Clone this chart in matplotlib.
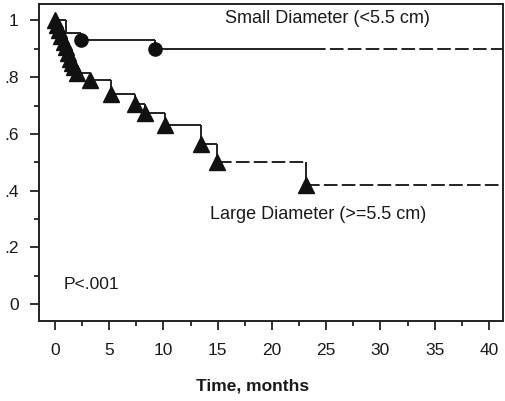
import matplotlib
matplotlib.use("Agg")
import matplotlib.pyplot as plt
from matplotlib.ticker import MultipleLocator

plt.rcParams['font.family'] = ['Liberation Sans', 'DejaVu Sans']

# Small diameter (<5.5 cm)
small_times = [0.0, 1.0, 2.4, 9.2]
small_surv = [1.0, 0.955, 0.93, 0.90]
small_marker_times = [2.4, 9.2]
small_marker_surv = [0.93, 0.90]
small_solid_end = 23.7

# Large diameter (>=5.5 cm)
large_times = [0.0, 0.2, 0.4, 0.6, 0.8, 1.0, 1.2, 1.4, 1.6, 1.8, 2.0,
               3.2, 5.2, 7.4, 8.3, 10.1, 13.5, 14.9, 23.1]
large_surv = [1.0, 0.985, 0.965, 0.945, 0.925, 0.905, 0.885, 0.865,
              0.85, 0.835, 0.815, 0.79, 0.74, 0.705, 0.675, 0.63,
              0.565, 0.50, 0.42]
large_solid_end = 15.0

end_time = 41.6
xticks = [0, 5, 10, 15, 20, 25, 30, 35, 40]
yticks = [0, 0.2, 0.4, 0.6, 0.8, 1.0]
ytick_labels = ['0', '.2', '.4', '.6', '.8', '1']

col = '#222222'
lw = 1.4
dash = (0, (7.0, 2.2))

fig = plt.figure(figsize=(5.05, 4.01), dpi=100)
ax = fig.add_axes([39/505, 1-321/401, (503-39)/505, (321-4)/401])


def draw_km(times, surv, solid_end):
    for i in range(len(times)):
        a = times[i]
        b = times[i+1] if i+1 < len(times) else end_time
        s = surv[i]
        if a < solid_end:
            ax.plot([a, min(b, solid_end)], [s, s], color=col, lw=lw,
                    solid_capstyle='butt')
        if b > solid_end:
            ax.plot([max(a, solid_end), b], [s, s], color=col, lw=lw,
                    linestyle=dash)
        if i+1 < len(times):
            ax.plot([b, b], [s, surv[i+1]], color=col, lw=lw,
                    solid_capstyle='butt')


draw_km(small_times, small_surv, small_solid_end)
draw_km(large_times, large_surv, large_solid_end)

ax.plot(large_times, large_surv, linestyle='none', marker='^',
        markersize=11, color='#111111')
ax.plot(small_marker_times, small_marker_surv, linestyle='none',
        marker='o', markersize=9.5, color='#111111')

ax.set_xlim(-1.47, 41.3)
ax.set_ylim(-0.06, 1.058)

ax.set_xticks(xticks)
ax.xaxis.set_minor_locator(MultipleLocator(2.5))
ax.set_yticks(yticks)
ax.set_yticklabels(ytick_labels)
ax.yaxis.set_minor_locator(MultipleLocator(0.1))

ax.tick_params(axis='both', which='major', direction='out', length=6.5,
               width=1.3, color=col, labelsize=12.5, labelcolor='#1a1a1a')
ax.tick_params(axis='both', which='minor', direction='out', length=3.5,
               width=1.3, color=col)
ax.tick_params(axis='x', which='major', pad=9)
ax.tick_params(axis='y', which='major', pad=8)

for sp in ax.spines.values():
    sp.set_linewidth(1.4)
    sp.set_color(col)

ax.text(0.40, 0.955, 'Small Diameter (<5.5 cm)', transform=ax.transAxes,
        fontsize=13, color='#1a1a1a', va='center', ha='left')
ax.text(0.369, 0.335, 'Large Diameter (>=5.5 cm)', transform=ax.transAxes,
        fontsize=13, color='#1a1a1a', va='center', ha='left')
ax.text(0.052, 0.115, 'P<.001', transform=ax.transAxes,
        fontsize=12.6, color='#1a1a1a', va='center', ha='left')

fig.text(253/505, 1-386/401, 'Time, months', fontsize=12.5, fontweight='bold',
         ha='center', va='center', color='#1a1a1a')

fig.savefig('out.png', dpi=100)
